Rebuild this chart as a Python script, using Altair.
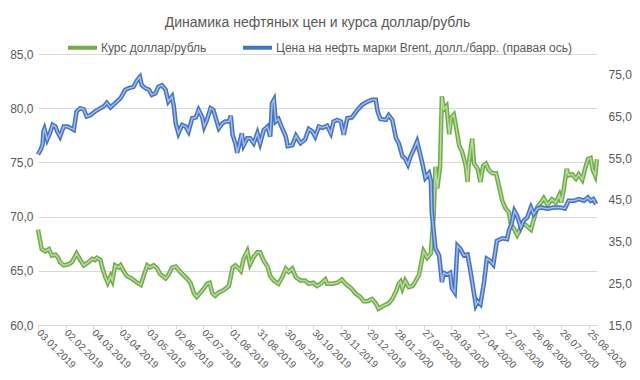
import altair as alt
import pandas as pd

START = pd.Timestamp("2019-01-03")

# x tick labels (every 30 days)
tick_labels = ["03.01.2019", "02.02.2019", "04.03.2019", "03.04.2019", "03.05.2019",
               "02.06.2019", "02.07.2019", "01.08.2019", "31.08.2019", "30.09.2019",
               "30.10.2019", "29.11.2019", "29.12.2019", "28.01.2020", "27.02.2020",
               "28.03.2020", "27.04.2020", "27.05.2020", "26.06.2020", "26.07.2020",
               "25.08.2020"]

series_names = ["Курс доллар/рубль",
                "Цена на нефть марки Brent, долл./барр. (правая ось)"]

# USD/RUB: days since 03.01.2019 and value
usd_days = [0, 4, 8, 12, 15, 19, 22, 24, 28, 33, 37, 42, 46, 50, 55, 59, 62, 64, 68, 70,
            73, 76, 79, 81, 84, 88, 90, 93, 97, 102, 108, 112, 115, 119, 122, 126, 130, 133,
            139, 142, 146, 150, 155, 162, 166, 170, 173, 177, 181, 184, 187, 190, 193, 197,
            202, 208, 212, 215, 219, 221, 224, 228, 231, 235, 239, 242, 246, 250, 253, 257,
            262, 266, 270, 273, 277, 281, 286, 291, 295, 300, 304, 308, 313, 315, 321, 326,
            331, 335, 341, 346, 351, 355, 359, 364, 368, 371, 377, 382, 386, 390, 393, 395,
            397, 400, 404, 408, 411, 415, 420, 424, 428, 431, 433, 435, 438, 440, 442, 445,
            448, 450, 453, 455, 459, 462, 466, 468, 469, 473, 475, 479, 482, 485, 488, 491,
            495, 499, 502, 506, 509, 513, 515, 519, 522, 526, 529, 533, 537, 540, 544, 548,
            551, 555, 560, 564, 568, 570, 573, 576, 578, 582, 586, 589, 593, 596, 599, 602,
            604, 607, 609]
usd_vals = [68.8, 67.0, 66.8, 67.0, 66.4, 66.5, 66.2, 65.8, 65.5, 65.6, 65.8, 66.6, 66.0,
            65.5, 65.8, 66.1, 66.0, 66.2, 66.0, 65.3, 64.5, 63.9, 64.5, 64.1, 65.5, 65.3,
            65.5, 65.0, 64.5, 64.3, 63.9, 63.7, 64.5, 65.5, 65.3, 65.5, 65.2, 64.7, 64.3,
            64.6, 65.3, 65.4, 64.9, 64.3, 63.9, 62.9, 62.6, 63.0, 63.4, 63.8, 63.9, 62.9,
            62.7, 63.0, 63.2, 63.6, 65.3, 65.5, 65.2, 65.0, 66.1, 66.8, 65.6, 66.3, 66.7,
            66.7, 65.9, 65.4, 64.5, 64.1, 63.8, 64.4, 65.2, 64.9, 65.2, 64.4, 64.1, 64.1,
            63.8, 63.9, 63.6, 63.8, 64.2, 63.8, 63.8, 63.9, 64.2, 63.8, 63.4, 62.9, 62.6,
            62.2, 62.2, 62.4, 62.0, 61.5, 61.8, 62.0, 62.4, 63.1, 63.8, 64.0, 63.4, 64.1,
            63.5, 63.6, 64.0, 64.6, 66.8, 66.2, 66.6, 70.1, 74.6, 72.6, 74.6, 81.1, 79.9,
            80.2, 77.6, 79.1, 79.4, 78.5, 76.5, 76.0, 74.7, 73.2, 74.7, 77.2, 74.9, 74.4,
            73.2, 74.7, 74.9, 74.3, 74.0, 74.0, 72.9, 71.4, 70.8, 70.4, 69.4, 68.8, 68.3,
            69.0, 69.4, 69.1, 68.8, 69.7, 70.9, 71.3, 71.7, 71.1, 71.6, 71.3, 72.0, 71.3,
            72.6, 74.4, 73.8, 73.9, 73.5, 73.9, 73.4, 74.4, 75.3, 75.4, 74.4, 73.8, 75.3]

# Brent: days since 03.01.2019 and value
brent_days = [0, 3, 5, 6, 7, 10, 13, 16, 19, 21, 24, 28, 32, 35, 39, 42, 46, 50, 53, 57, 62,
              68, 72, 75, 79, 84, 90, 95, 99, 104, 108, 111, 113, 117, 121, 124, 128, 131,
              135, 139, 142, 146, 148, 150, 153, 157, 161, 164, 168, 172, 175, 179, 181, 184,
              188, 191, 197, 201, 204, 208, 210, 212, 215, 217, 219, 222, 224, 228, 231, 235,
              239, 242, 246, 250, 253, 255, 257, 259, 262, 266, 270, 272, 277, 281, 286, 291,
              295, 299, 302, 306, 310, 315, 319, 322, 326, 330, 333, 337, 342, 348, 353, 359,
              364, 368, 370, 373, 379, 382, 386, 390, 393, 397, 400, 403, 406, 410, 413, 416,
              419, 422, 426, 428, 429, 433, 437, 440, 442, 446, 449, 451, 454, 457, 460, 464,
              468, 471, 475, 477, 479, 482, 486, 489, 492, 496, 500, 506, 511, 513, 516, 519,
              522, 526, 529, 533, 537, 540, 544, 548, 555, 562, 569, 574, 578, 584, 589, 595,
              599, 602, 605, 608]
brent_vals = [55.9, 57.1, 58.3, 61.4, 62.0, 59.5, 61.0, 63.0, 62.6, 61.4, 60.2, 62.6, 62.6,
              62.3, 61.8, 66.2, 67.0, 66.7, 65.0, 65.3, 66.2, 67.0, 67.5, 68.3, 67.2, 68.2,
              69.4, 71.4, 71.8, 72.1, 73.7, 74.5, 72.5, 71.8, 71.4, 70.2, 70.6, 72.1, 72.5,
              71.4, 68.6, 69.8, 67.4, 63.4, 61.0, 63.0, 62.6, 61.4, 64.6, 64.8, 66.6, 64.8,
              62.6, 64.2, 67.0, 66.6, 62.2, 63.4, 63.8, 63.8, 65.2, 60.6, 58.6, 56.3, 58.1,
              61.0, 58.1, 59.8, 59.8, 58.6, 61.0, 58.6, 61.8, 62.6, 60.2, 68.2, 69.0, 63.8,
              64.4, 62.2, 60.2, 57.9, 58.1, 60.4, 58.6, 59.5, 62.0, 61.4, 60.2, 62.6, 62.3,
              62.8, 61.0, 63.8, 64.2, 63.8, 60.6, 64.6, 64.8, 66.6, 67.8, 68.6, 69.0, 69.0,
              66.2, 64.4, 64.2, 65.3, 64.2, 59.8, 58.6, 55.5, 54.9, 53.5, 55.5, 57.4, 59.0,
              56.3, 53.5, 50.3, 51.4, 49.6, 42.0, 33.3, 31.7, 25.3, 27.5, 27.1, 27.5, 23.8,
              22.8, 34.0, 33.3, 31.7, 31.9, 28.1, 22.6, 19.8, 20.7, 20.0, 25.3, 30.9, 30.5,
              29.5, 35.2, 35.8, 35.6, 37.6, 39.3, 42.4, 41.2, 38.4, 40.0, 40.8, 43.2, 41.6,
              42.9, 43.2, 42.9, 43.2, 43.2, 42.9, 44.8, 44.8, 45.2, 44.8, 45.6, 44.8, 45.2,
              44.0]

left_ticks = [60, 65, 70, 75, 80, 85]
right_ticks = [15, 25, 35, 45, 55, 65, 75]


def to_iso(days):
    return [(START + pd.Timedelta(days=int(d))).strftime("%Y-%m-%d") for d in days]


usd_df = pd.DataFrame({"date": to_iso(usd_days), "value": usd_vals, "series": series_names[0]})
brent_df = pd.DataFrame({"date": to_iso(brent_days), "value": brent_vals, "series": series_names[1]})


def dt(s):
    d, m, y = s.split(".")
    return alt.DateTime(year=int(y), month=int(m), date=int(d), utc=True)


tick_values = [dt(s) for s in tick_labels]

TXT = "#595959"
GRID = "#D9D9D9"
comma = "replace(format(datum.value, '.1f'), '.', ',')"

x_enc = alt.X(
    "date:T",
    scale=alt.Scale(type="utc", domain=[dt("03.01.2019"), dt("03.09.2020")]),
    axis=alt.Axis(values=tick_values, labelExpr="utcFormat(datum.value, '%d.%m.%Y')",
                  labelAngle=45, labelAlign="left", labelBaseline="middle", labelFontSize=10,
                  labelColor=TXT, labelOverlap=False, labelFlush=False, grid=False,
                  domainColor=GRID, tickColor=GRID, tickSize=4, labelPadding=2, title=None),
)

y_left = alt.Y("value:Q",
               scale=alt.Scale(domain=[60, 85], nice=False, zero=False),
               axis=alt.Axis(values=left_ticks, labelExpr=comma, grid=True, gridColor=GRID,
                             domain=False, ticks=False, labelColor=TXT, labelFontSize=12,
                             labelPadding=5, title=None))
y_right = alt.Y("value:Q",
                scale=alt.Scale(domain=[15, 80], nice=False, zero=False),
                axis=alt.Axis(values=right_ticks, labelExpr=comma, grid=False, orient="right",
                              domain=False, ticks=False, labelColor=TXT, labelFontSize=12,
                              labelPadding=11, title=None))

color_enc = alt.Color(
    "series:N",
    scale=alt.Scale(domain=series_names, range=["#70AD47", "#4472C4"]),
    legend=alt.Legend(orient="none", legendX=28, legendY=-23, direction="horizontal",
                      title=None, symbolType="stroke", symbolStrokeWidth=4, symbolSize=841,
                      labelFontSize=12, labelColor=TXT, columnPadding=28, labelOffset=2,
                      labelLimit=0, padding=0),
)

green_outer = alt.Chart(usd_df).mark_line(strokeWidth=4.5).encode(x=x_enc, y=y_left, color=color_enc)
green_inner = alt.Chart(usd_df).mark_line(strokeWidth=1.5, color="#B7DCA0").encode(x=x_enc, y=y_left)
blue_outer = alt.Chart(brent_df).mark_line(strokeWidth=4.5).encode(x=x_enc, y=y_right, color=color_enc)
blue_inner = alt.Chart(brent_df).mark_line(strokeWidth=1.5, color="#A3BCEA").encode(x=x_enc, y=y_right)

left = alt.layer(green_outer, green_inner)
right = alt.layer(blue_outer, blue_inner)

chart = (
    alt.layer(left, right)
    .resolve_scale(y="independent")
    .properties(
        width=559, height=271,
        autosize=alt.AutoSizeParams(type="none"),
        padding={"left": 30, "top": 46, "right": 35, "bottom": 47},
        background="white",
        title=alt.TitleParams("Динамика нефтяных цен и курса доллар/рубль", fontSize=14,
                              fontWeight="normal", color=TXT, anchor="middle", offset=1),
    )
    .configure(font="Liberation Sans")
    .configure_view(stroke=None)
)

chart.save("out.html", embed_options={"renderer": "svg", "actions": False})
